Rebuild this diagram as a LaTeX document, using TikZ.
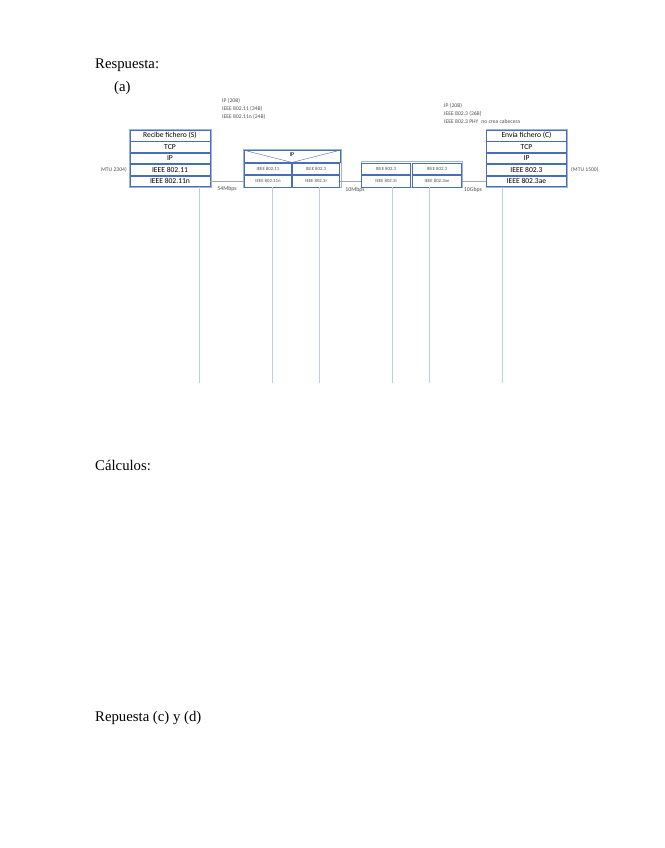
\documentclass[tikz,border=0pt]{standalone}
\usepackage{fontspec}
\setmainfont{Liberation Serif}
\newfontfamily\calibri{Carlito}
\usetikzlibrary{positioning, calc}
\definecolor{capablue}{HTML}{4A6EB5}
\definecolor{marcoblue}{HTML}{9DB5DE}
\definecolor{vidablue}{HTML}{BCCDEB}
\definecolor{enlacegris}{HTML}{A6A6A6}
\definecolor{notagris}{HTML}{505050}
\newcommand\escala{0.9217pt}

\begin{document}
\begin{tikzpicture}[x=0.9217pt, y=-0.9217pt,
    capa/.style={draw=capablue, line width=0.6pt, minimum width={80*\escala}, minimum height={10.6*\escala}, inner sep=0pt, font=\calibri\fontsize{7}{8}\selectfont},
    subcapa/.style={draw=capablue, line width=0.5pt, minimum width={47*\escala}, minimum height={11.2*\escala}, inner sep=0pt, font=\calibri\fontsize{4.4}{5}\selectfont, text=notagris},
    nota/.style={font=\calibri\fontsize{5.2}{6}\selectfont, text=notagris, anchor=west, inner sep=0pt},
    velocidad/.style={font=\calibri\fontsize{5.4}{6}\selectfont, text=notagris, inner sep=0pt},
    hoja/.style={anchor=west, inner sep=0pt, font=\fontsize{13.6}{16}\selectfont},
    enlace/.style={draw=enlacegris, line width=0.8pt},
    vida/.style={draw=vidablue, line width=0.8pt}]
  \useasboundingbox (0,0) rectangle (664,848);
  % Textos de la hoja
  \node[hoja] (resp) at (95,65) {Respuesta:};
  \node[hoja] (apart) at (114,88) {(a)};
  \node[hoja] (calc) at (95,465) {Cálculos:};
  \node[hoja] (respcd) at (95,718) {Repuesta (c) y (d)};

  % Pila del receptor (S)
  \draw[marcoblue, line width=0.8pt] (129,129.5) rectangle (211,187.5);
  \node[capa] (s1) at (170,135.7) {Recibe fichero (S)};
  \node[capa] (s2) at (170,147.1) {TCP};
  \node[capa] (s3) at (170,158.5) {IP};
  \node[capa] (s4) at (170,169.9) {IEEE 802.11};
  \node[capa] (s5) at (170,181.3) {IEEE 802.11n};
  \node[nota, anchor=east] (mtus) at (127,170) {MTU 2304)};
  \node[nota] (hs1) at (222,101) {IP (20B)};
  \node[nota] (hs2) at (222,109) {IEEE 802.11 (34B)};
  \node[nota] (hs3) at (222,117) {IEEE 802.11n (24B)};

  % Router 1
  \draw[marcoblue, line width=0.8pt] (243,149.5) rectangle (341,187.5);
  \node[draw=capablue, line width=0.6pt, minimum width={96*\escala}, minimum height={11.6*\escala}, inner sep=0pt] (r1ip) at (292,156.3) {};
  \draw[capablue, line width=0.4pt] (r1ip.north west) -- (r1ip.south) -- (r1ip.north east);
  \node[font=\calibri\fontsize{5.5}{6}\selectfont, inner sep=0pt] (r1iptxt) at (292,155) {IP};
  \node[subcapa] (r1a) at (268,168.8) {IEEE 802.11};
  \node[subcapa] (r1b) at (316,168.8) {IEEE 802.3};
  \node[subcapa] (r1c) at (268,181.3) {IEEE 802.11n};
  \node[subcapa] (r1d) at (316,181.3) {IEEE 802.3i};

  % Router 2
  \draw[marcoblue, line width=0.8pt] (361,161.5) rectangle (462,187.5);
  \node[subcapa, minimum width={48.5*\escala}] (r2a) at (386,168.8) {IEEE 802.3};
  \node[subcapa, minimum width={48.5*\escala}] (r2b) at (437,168.8) {IEEE 802.3};
  \node[subcapa, minimum width={48.5*\escala}] (r2c) at (386,181.3) {IEEE 802.3i};
  \node[subcapa, minimum width={48.5*\escala}] (r2d) at (437,181.3) {IEEE 802.3ae};

  % Pila del emisor (C)
  \draw[marcoblue, line width=0.8pt] (486,129.5) rectangle (567,187.5);
  \node[capa] (c1) at (526.5,135.7) {Envía fichero (C)};
  \node[capa] (c2) at (526.5,147.1) {TCP};
  \node[capa] (c3) at (526.5,158.5) {IP};
  \node[capa] (c4) at (526.5,169.9) {IEEE 802.3};
  \node[capa] (c5) at (526.5,181.3) {IEEE 802.3ae};
  \node[nota] (mtuc) at (571,170) {(MTU 1500)};
  \node[nota] (hc1) at (444,106) {IP (20B)};
  \node[nota] (hc2) at (444,114) {IEEE 802.3 (26B)};
  \node[nota] (hc3) at (444,122) {IEEE 802.3 PHY\enspace no crea cabecera};

  % Enlaces
  \draw[enlace] (s5.east) -- (r1c.west);
  \draw[enlace] (r1d.east) -- (r2c.west);
  \draw[enlace] (r2d.east) -- (c5.west);
  \node[velocidad] (v1) at (227,189) {54Mbps};
  \node[velocidad] (v2) at (355,190) {10Mbps};
  \node[velocidad] (v3) at (473,190) {10Gbps};

  % Lineas de tiempo
  \coordinate (t1) at (199,383);
  \coordinate (t2) at (272,383);
  \coordinate (t3) at (319,383);
  \coordinate (t4) at (392,383);
  \coordinate (t5) at (429,383);
  \coordinate (t6) at (502,383);
  \draw[vida] (s5.south -| t1) -- (t1);
  \draw[vida] (r1c.south -| t2) -- (t2);
  \draw[vida] (r1d.south -| t3) -- (t3);
  \draw[vida] (r2c.south -| t4) -- (t4);
  \draw[vida] (r2d.south -| t5) -- (t5);
  \draw[vida] (c5.south -| t6) -- (t6);
\end{tikzpicture}
\end{document}
